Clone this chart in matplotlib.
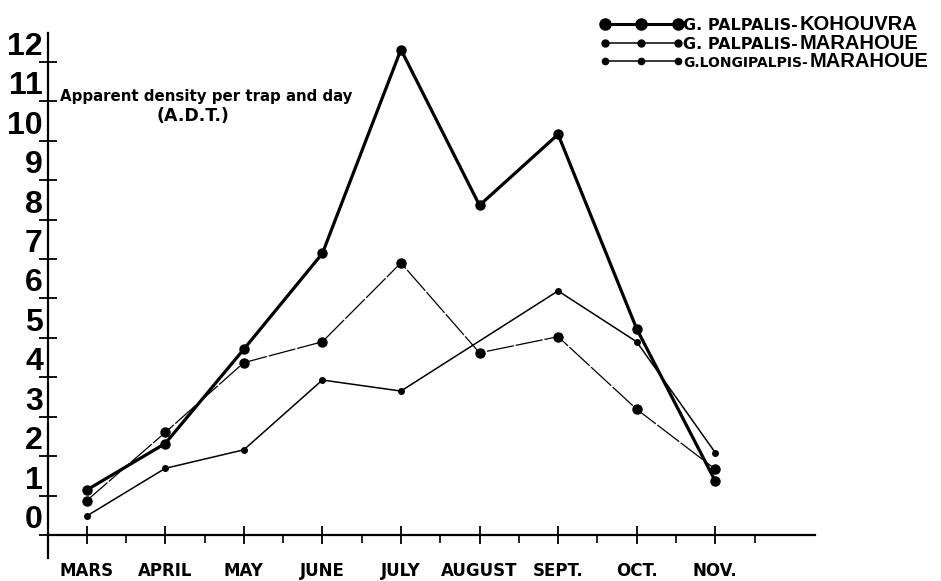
import numpy as np
import matplotlib
matplotlib.use("Agg")
import matplotlib.pyplot as plt
from matplotlib.lines import Line2D
from matplotlib.legend_handler import HandlerLine2D

months = ["MARS", "APRIL", "MAY", "JUNE", "JULY", "AUGUST", "SEPT.", "OCT.", "NOV."]
kohouvra = [1.14, 2.32, 4.71, 7.14, 12.31, 8.36, 10.16, 5.23, 1.37]
palpalis_marahoue = [0.87, 2.60, 4.37, 4.90, 6.90, 4.62, 5.03, 3.19, 1.67]
longipalpis_marahoue = [0.48, 1.69, 2.16, 3.93, 3.65, np.nan, 6.19, 4.90, 2.09]
y_ticks = list(range(0, 13))
legend_small = ["G. PALPALIS-", "G. PALPALIS-", "G.LONGIPALPIS-"]
legend_big = ["KOHOUVRA", "MARAHOUE", "MARAHOUE"]

fig = plt.figure(figsize=(9.41, 5.81), dpi=100)
ax = fig.add_axes([0.0510, 0.0396, 0.8151, 0.9036])

x = np.arange(len(months))

# LONGIPALPIS (thin, small dots)
lg = np.array(longipalpis_marahoue, dtype=float)
m = ~np.isnan(lg)
ax.plot(x[m], lg[m], color="black", lw=1.1, marker="o", ms=4, zorder=3)
# PALPALIS MARAHOUE (thin, partly broken, big dots)
ax.plot(x, palpalis_marahoue, color="black", lw=0.9, dashes=(22, 1.5),
        marker="o", ms=6.5, zorder=3)
# PALPALIS KOHOUVRA (thick, big dots)
ax.plot(x, kohouvra, color="black", lw=2.3, marker="o", ms=6.5, zorder=4)

ax.set_xlim(-0.492, 9.27)
ax.set_ylim(-0.583, 12.73)

for s in ["top", "right"]:
    ax.spines[s].set_visible(False)
ax.spines["bottom"].set_position(("data", 0))
ax.spines["bottom"].set_linewidth(1.6)
ax.spines["left"].set_linewidth(1.6)

ax.set_xticks(x)
ax.set_xticklabels(months, fontfamily="DejaVu Sans", fontweight="bold", fontsize=12)
ax.set_xticks(np.arange(0.5, 9, 1.0), minor=True)
ax.tick_params(axis="x", which="major", direction="inout", length=13.5, width=1.3, pad=13)
ax.tick_params(axis="x", which="minor", direction="out", length=6, width=1.2)

ax.set_yticks(y_ticks)
ax.set_yticklabels([str(v) for v in y_ticks],
                   fontfamily=["Liberation Sans Narrow", "Liberation Sans", "DejaVu Sans"],
                   fontweight="bold", fontsize=23)
for lab in ax.get_yticklabels():
    lab.set_verticalalignment("bottom")
ax.tick_params(axis="y", which="major", direction="inout", length=13.5, width=1.3, pad=-3)

ax.text(-0.34, 11.0, "Apparent density per trap and day", fontfamily="DejaVu Sans",
        fontweight="bold", fontsize=10.8, va="baseline", ha="left")
ax.text(1.35, 10.5, "(A.D.T.)", fontfamily="DejaVu Sans", fontweight="bold",
        fontsize=12.5, va="baseline", ha="center")

handles = [
    Line2D([], [], color="black", lw=2.2, marker="o", ms=8),
    Line2D([], [], color="black", lw=1.1, marker="o", ms=5),
    Line2D([], [], color="black", lw=1.1, marker="o", ms=4.5),
]
leg = ax.legend(handles, legend_small, loc="upper left",
                bbox_to_anchor=(605 / 941, 1 - 17.5 / 581), bbox_transform=fig.transFigure,
                frameon=False, borderpad=0, borderaxespad=0, handlelength=4.57,
                handletextpad=0.3, labelspacing=0.26, numpoints=3,
                handler_map={Line2D: HandlerLine2D(marker_pad=0, numpoints=3)},
                prop={"family": "DejaVu Sans", "weight": "bold", "size": 11.5})
leg.set_zorder(5)
leg.get_texts()[2].set_fontsize(10)
for txt, big in zip(leg.get_texts(), legend_big):
    ax.annotate(big, xy=(1, 0), xycoords=txt, xytext=(1.5, -1), textcoords="offset points",
                ha="left", va="bottom", fontfamily=["Liberation Sans", "DejaVu Sans"],
                fontweight="bold", fontsize=14.5, annotation_clip=False, zorder=10)

fig.savefig("out.png", dpi=100)
